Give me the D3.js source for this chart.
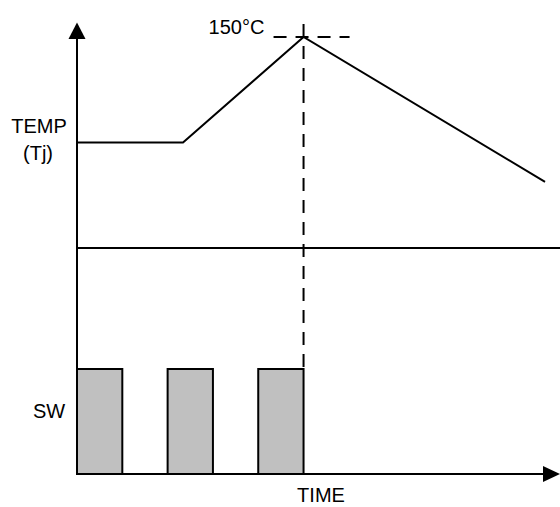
<!DOCTYPE html>
<html>
<head>
<meta charset="utf-8">
<style>
  body { margin: 0; background: #fff; }
  text { font-family: "Liberation Sans", Arial, sans-serif; font-size: 20px; fill: #000; }
</style>
</head>
<body>
<div id="container"></div>
<script src="https://cdn.jsdelivr.net/npm/d3@7"></script>
<script>
// switching pulses (time units)
const pulseStart = [0, 2, 4];
const pulseEnd = [1, 3, 5];
// junction temperature trace: [time, temp °C]
const tempTime = [0, 2.34, 5, 10.33];
const tempValue = [75, 75, 150, 47];
const peakTemp = 150;
const peakTime = 5;
const labels = { temp: ["TEMP", "(Tj)"], sw: "SW", time: "TIME", peak: "150°C" };

const width = 560, height = 507;

const svg = d3.select("#container")
    .append("svg")
    .attr("width", width)
    .attr("height", height);

// scales
const x = d3.scaleLinear().domain([0, 10.66]).range([77, 560]);
const yTemp = d3.scaleLinear().domain([0, 150]).range([248, 37]);
const ySw = d3.scaleLinear().domain([0, 1]).range([474, 369]);

// switching bars
svg.selectAll("rect.pulse")
    .data(pulseStart)
    .join("rect")
    .attr("class", "pulse")
    .attr("x", d => x(d))
    .attr("y", ySw(1))
    .attr("width", (d, i) => x(pulseEnd[i]) - x(d))
    .attr("height", ySw(0) - ySw(1))
    .attr("fill", "#c0c0c0")
    .attr("stroke", "#000")
    .attr("stroke-width", 2);

// divider between the two panels
svg.append("line")
    .attr("x1", x(0)).attr("x2", width)
    .attr("y1", yTemp(0)).attr("y2", yTemp(0))
    .attr("stroke", "#000").attr("stroke-width", 2);

// temperature line
const line = d3.line()
    .x(d => x(d[0]))
    .y(d => yTemp(d[1]));
svg.append("path")
    .datum(tempTime.map((t, i) => [t, tempValue[i]]))
    .attr("d", line)
    .attr("fill", "none")
    .attr("stroke", "#000")
    .attr("stroke-width", 2);

// dashed guides at the peak
svg.append("line")
    .attr("x1", x(peakTime)).attr("x2", x(peakTime))
    .attr("y1", 24).attr("y2", ySw(1))
    .attr("stroke", "#000").attr("stroke-width", 2)
    .attr("stroke-dasharray", "13,9");
svg.append("line")
    .attr("x1", x(peakTime) - 30).attr("x2", x(peakTime) + 46)
    .attr("y1", yTemp(peakTemp)).attr("y2", yTemp(peakTemp))
    .attr("stroke", "#000").attr("stroke-width", 2)
    .attr("stroke-dasharray", "13,9");

// axes
svg.append("line")
    .attr("x1", x(0)).attr("x2", x(0))
    .attr("y1", ySw(0) + 1).attr("y2", 36)
    .attr("stroke", "#000").attr("stroke-width", 2);
svg.append("line")
    .attr("x1", x(0) - 1).attr("x2", width - 14)
    .attr("y1", ySw(0)).attr("y2", ySw(0))
    .attr("stroke", "#000").attr("stroke-width", 2);

// arrow heads
svg.append("path")
    .attr("d", `M${x(0)},22.5 L${x(0) - 8.5},39 L${x(0) + 8.5},39 Z`)
    .attr("fill", "#000");
svg.append("path")
    .attr("d", `M${width},${ySw(0)} L${width - 17},${ySw(0) - 8} L${width - 17},${ySw(0) + 8} Z`)
    .attr("fill", "#000");

// labels
svg.append("text").attr("x", 39).attr("y", 133).attr("text-anchor", "middle").text(labels.temp[0]);
svg.append("text").attr("x", 38).attr("y", 160).attr("text-anchor", "middle").text(labels.temp[1]);
svg.append("text").attr("x", 49).attr("y", 418).attr("text-anchor", "middle").text(labels.sw);
svg.append("text").attr("x", 321).attr("y", 502).attr("text-anchor", "middle").text(labels.time);
svg.append("text").attr("x", 236.5).attr("y", 34).attr("text-anchor", "middle").text(labels.peak);
</script>
</body>
</html>
